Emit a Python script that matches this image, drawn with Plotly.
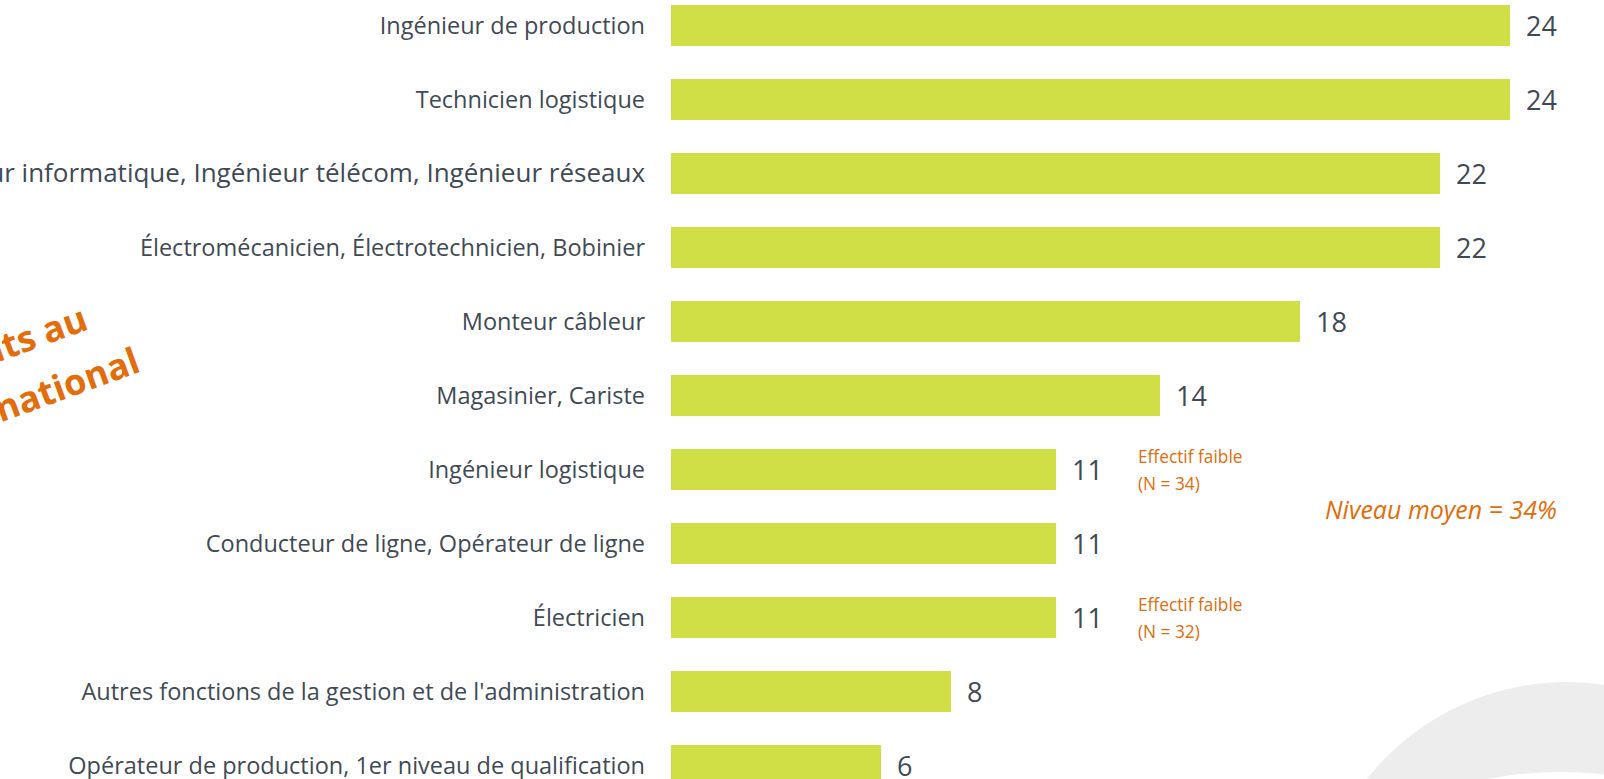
import plotly.graph_objects as go

categories = [
    "Ingénieur de production",
    "Technicien logistique",
    "Ingénieur informatique, Ingénieur télécom, Ingénieur réseaux",
    "Électromécanicien, Électrotechnicien, Bobinier",
    "Monteur câbleur",
    "Magasinier, Cariste",
    "Ingénieur logistique",
    "Conducteur de ligne, Opérateur de ligne",
    "Électricien",
    "Autres fonctions de la gestion et de l'administration",
    "Opérateur de production, 1er niveau de qualification",
]
values = [24, 24, 22, 22, 18, 14, 11, 11, 11, 8, 6]
notes = {"Ingénieur logistique": "(N = 34)", "Électricien": "(N = 32)"}
note_title = "Effectif faible"
average_text = "Niveau moyen = 34%"
side_lines = ["Résultats au", "niveau national"]

W, H = 1604, 779
ML = 671
TXT = "#3F4A54"
ORANGE = "#E46C0A"
BAR = "#D0DF46"


def px(x):
    return (x - ML) / (W - ML)


def py(y):
    return 1 - y / H


tick_text = []
for c in categories:
    if len(c) > 55:
        tick_text.append('<span style="font-size:26px">' + c + "</span>")
    else:
        tick_text.append(c)

fig = go.Figure()
fig.add_trace(go.Bar(
    x=values, y=categories, orientation="h",
    marker=dict(color=BAR, line=dict(width=0)),
    width=0.554, hoverinfo="x+y",
))

ann = []
for c, v in zip(categories, values):
    ann.append(dict(x=v, y=c, xref="x", yref="y", text=str(v), showarrow=False,
                    xanchor="left", yanchor="middle", xshift=14,
                    font=dict(family="Open Sans", size=27, color=TXT)))
    if c in notes:
        ann.append(dict(x=v, y=c, xref="x", yref="y", text=note_title, showarrow=False,
                        xanchor="left", yanchor="middle", xshift=80, yshift=13,
                        font=dict(family="Open Sans", size=17.3, color=ORANGE)))
        ann.append(dict(x=v, y=c, xref="x", yref="y", text=notes[c], showarrow=False,
                        xanchor="left", yanchor="middle", xshift=80, yshift=-14,
                        font=dict(family="Open Sans", size=17.3, color=ORANGE)))

ann.append(dict(x=px(1559), y=py(509), xref="paper", yref="paper", text="<i>" + average_text + "</i>",
                showarrow=False, xanchor="right", yanchor="middle",
                font=dict(family="Open Sans", size=25, color=ORANGE)))

ann.append(dict(x=px(-20), y=py(355), xref="paper", yref="paper", text="<b>" + side_lines[0] + "</b>",
                showarrow=False, xanchor="center", yanchor="middle", textangle=-20,
                font=dict(family="Open Sans", size=36, color=ORANGE)))
ann.append(dict(x=px(5), y=py(406), xref="paper", yref="paper", text="<b>" + side_lines[1] + "</b>",
                showarrow=False, xanchor="center", yanchor="middle", textangle=-20,
                font=dict(family="Open Sans", size=36, color=ORANGE)))

shapes = [
    dict(type="circle", xref="paper", yref="paper", layer="below",
         x0=px(1567 - 255), x1=px(1567 + 255), y0=py(937 + 255), y1=py(937 - 255),
         fillcolor="#EDEDED", line=dict(width=0)),
    dict(type="circle", xref="paper", yref="paper", layer="below",
         x0=px(1560 - 380), x1=px(1560 + 380), y0=py(1152 + 380), y1=py(1152 - 380),
         fillcolor="#FFFFFF", line=dict(width=0)),
]

fig.update_layout(
    width=W, height=H,
    margin=dict(l=ML, r=0, t=0, b=0, pad=0),
    paper_bgcolor="white", plot_bgcolor="rgba(0,0,0,0)",
    showlegend=False,
    bargap=0,
    annotations=ann,
    shapes=shapes,
    xaxis=dict(range=[0, (W - ML) / 34.96], visible=False, fixedrange=True),
    yaxis=dict(type="category", categoryorder="array", categoryarray=categories,
               tickmode="array", tickvals=categories, ticktext=tick_text,
               range=[(H - 25.3) / 74, -25.3 / 74], automargin=False,
               showgrid=False, zeroline=False, showline=False, ticks="",
               ticklabelstandoff=25,
               tickfont=dict(family="Open Sans", size=23.5, color=TXT)),
)

fig.write_html("out.html", config={"displayModeBar": False},
               post_script="document.body.style.margin='0';document.body.style.overflow='hidden';")
